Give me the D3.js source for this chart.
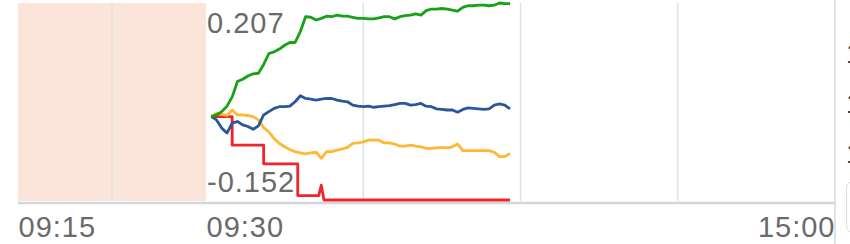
<!DOCTYPE html>
<html>
<head>
<meta charset="utf-8">
<script src="https://cdn.jsdelivr.net/npm/d3@7"></script>
<style>
  html, body { margin: 0; padding: 0; background: #fff; overflow: hidden; }
  svg { display: block; font-family: "Liberation Sans", Arial, sans-serif; }
</style>
</head>
<body>
<svg width="850" height="244"></svg>
<script>
// minutes after 09:30 (pre-open 09:15 sits at -15)
const minutes = [2, 4, 6, 8, 10, 12, 14, 16, 18, 20, 22, 24, 26, 28, 30, 32, 34, 36, 38, 40,
  42, 44, 46, 48, 50, 52, 54, 56, 58, 60, 62, 64, 66, 68, 70, 72, 74, 76, 78, 80,
  82, 84, 86, 88, 90, 92, 94, 96, 98, 100, 102, 104, 106, 108, 110, 112, 114, 116];

const greenVals = [0, .003, .009, .019, .036, .064, .068, .074, .078, .079,
  .095, .115, .118, .123, .130, .135, .135, .155, .182, .181,
  .176, .179, .183, .182, .185, .183, .183, .181, .179, .179,
  .178, .178, .180, .182, .182, .178, .182, .184, .185, .187,
  .185, .193, .196, .196, .197, .196, .194, .192, .199, .202,
  .202, .203, .203, .202, .203, .207, .206, .206];

const blueVals = [0, -.006, -.021, -.030, -.012, -.009, -.015, -.018, -.023, -.017,
  .003, .009, .015, .018, .018, .019, .027, .038, .033, .032,
  .030, .032, .033, .033, .030, .028, .027, .021, .019, .018,
  .019, .017, .018, .019, .020, .022, .024, .024, .021, .022,
  .024, .019, .018, .014, .013, .012, .012, .008, .013, .016,
  .015, .014, .013, .014, .021, .023, .021, .014];

const orangeVals = [0, .006, .004, .002, .012, .003, .003, .002, 0, -.006,
  -.020, -.028, -.040, -.049, -.055, -.060, -.064, -.066, -.068, -.066,
  -.065, -.076, -.064, -.064, -.061, -.059, -.056, -.049, -.048, -.046,
  -.043, -.043, -.043, -.048, -.048, -.050, -.054, -.054, -.052, -.054,
  -.055, -.058, -.058, -.057, -.056, -.057, -.055, -.050, -.062, -.062,
  -.062, -.062, -.062, -.062, -.065, -.073, -.073, -.067];

// red only moves in steps, so it keeps its own break points
const redMinutes = [2, 10, 10, 22, 22, 35, 35, 43, 44, 45, 116];
const redVals = [0, 0, -.052, -.052, -.086, -.086, -.144, -.144, -.125, -.152, -.152];

const tickMinutes = [-15, 0, 240];
const tickLabels = ["09:15", "09:30", "15:00"];
const gridMinutes = [-7.5, 60, 120, 180];
const yTicks = [0.207, -0.152];
const yTickLabels = ["0.207", "-0.152"];

let svg = d3.select("svg");
let margin = {top: 3, left: 18, right: 835, bottom: 201};

// pre-open part is squeezed into its own stretch of the axis
let x = d3.scaleLinear().domain([-15, 0, 240]).range([margin.left, 206, margin.right]);
let y = d3.scaleLinear().domain([-0.152, 0.207]).range([200, margin.top]);

// pink auction block
svg.append("rect")
  .attr("x", x(-15)).attr("y", margin.top)
  .attr("width", x(0) - x(-15)).attr("height", margin.bottom - margin.top)
  .attr("fill", "#fbe5da");

svg.selectAll(".grid").data(gridMinutes)
  .enter().append("line")
    .attr("class", "grid")
    .attr("x1", d => x(d)).attr("x2", d => x(d))
    .attr("y1", margin.top).attr("y2", margin.bottom)
    .attr("stroke", "#dde1e9").attr("stroke-width", 1.5);

// bottom rule + right border
svg.append("line")
  .attr("x1", x(-15)).attr("x2", x(240)).attr("y1", 203).attr("y2", 203)
  .attr("stroke", "#d3d6db").attr("stroke-width", 2.5);
svg.append("line")
  .attr("x1", x(240)).attr("x2", x(240)).attr("y1", 0).attr("y2", 244)
  .attr("stroke", "#d8d8d8").attr("stroke-width", 1.5);

// x axis labels
let xa = svg.append("g")
  .attr("transform", "translate(0,203)")
  .call(d3.axisBottom(x).tickValues(tickMinutes).tickFormat((d, i) => tickLabels[i]).tickSize(0).tickPadding(13));
xa.select(".domain").remove();
xa.selectAll("text")
  .attr("font-size", 29).attr("font-family", null).attr("fill", "#6a6a6a")
  .attr("letter-spacing", "1px")
  .attr("text-anchor", (d, i) => i == 2 ? "end" : "start");

// y labels: just max & min, written inside the plot
let ya = svg.append("g")
  .attr("transform", "translate(206,0)")
  .call(d3.axisRight(y).tickValues(yTicks).tickFormat((d, i) => yTickLabels[i]).tickSize(0).tickPadding(1));
ya.select(".domain").remove();
ya.selectAll("text")
  .attr("font-size", 29).attr("font-family", null).attr("fill", "#6a6a6a")
  .attr("letter-spacing", "1px")
  .attr("dy", (d, i) => i == 0 ? "1.0em" : "-0.31em");

let line = d3.line()
  .x(d => x(d[0]))
  .y(d => y(d[1]));

let series = [
  {t: redMinutes, v: redVals, c: "#f2242a"},
  {t: minutes, v: orangeVals, c: "#fdb834"},
  {t: minutes, v: blueVals, c: "#2c5698"},
  {t: minutes, v: greenVals, c: "#17a117"}
];

svg.selectAll(".serie").data(series)
  .enter().append("path")
    .attr("class", "serie")
    .attr("d", s => line(s.v.map((v, i) => [s.t[i], v])))
    .attr("fill", "none")
    .attr("stroke", s => s.c)
    .attr("stroke-width", 2.8)
    .attr("stroke-linejoin", "round");

// bits of the neighbouring panel that peek in on the right
svg.selectAll(".peek").data([63, 113, 163])
  .enter().append("text")
    .attr("class", "peek")
    .attr("x", 846).attr("y", d => d)
    .attr("font-size", 28).attr("fill", "#333")
    .text("1");
svg.append("rect")
  .attr("x", 846.5).attr("y", 180.5).attr("width", 30).attr("height", 53).attr("rx", 8)
  .attr("fill", "none").attr("stroke", "#dcdcdc");
</script>
</body>
</html>
